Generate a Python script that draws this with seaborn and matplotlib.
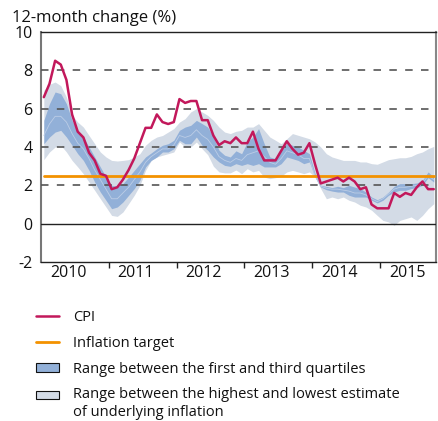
import numpy as np
import pandas as pd
import matplotlib
matplotlib.use("Agg")
import matplotlib.pyplot as plt
from matplotlib.lines import Line2D
from matplotlib.patches import Patch, Rectangle
from matplotlib.legend_handler import HandlerPatch
import seaborn as sns

# ---------------- data (monthly, Jan 2010 - Oct 2015) ----------------
years = ["2010", "2011", "2012", "2013", "2014", "2015"]

cpi = [6.6, 7.3, 8.5, 8.3, 7.5, 5.7, 4.8, 4.5, 3.7, 3.3, 2.6, 2.5,
       1.8, 1.9, 2.3, 2.8, 3.4, 4.2, 5.0, 5.0, 5.7, 5.3, 5.2, 5.3,
       6.5, 6.3, 6.4, 6.4, 5.4, 5.4, 4.6, 4.1, 4.3, 4.2, 4.5, 4.2,
       4.2, 4.8, 3.9, 3.3, 3.3, 3.3, 3.8, 4.3, 3.9, 3.6, 3.7, 4.2,
       3.1, 2.1, 2.2, 2.3, 2.4, 2.2, 2.4, 2.2, 1.8, 1.9, 1.0, 0.8,
       0.8, 0.8, 1.6, 1.4, 1.6, 1.5, 1.9, 2.2, 1.8, 1.8]

target = 2.5

range_hi = [6.96, 7.27, 7.39, 7.2, 6.6, 5.65, 5.3, 5.04, 4.6, 4.17, 3.74, 3.48,
            3.3, 3.27, 3.3, 3.34, 3.48, 3.65, 4.09, 4.35, 4.52, 4.6, 4.78, 4.96,
            5.3, 5.48, 5.83, 6.0, 5.83, 5.65, 5.39, 5.04, 4.78, 4.7, 4.82, 4.87,
            5.04, 5.04, 5.22, 4.87, 4.52, 4.35, 4.17, 4.43, 4.7, 4.61, 4.52, 4.43,
            4.26, 4.0, 3.65, 3.48, 3.39, 3.3, 3.3, 3.3, 3.22, 3.22, 3.13, 3.1,
            3.22, 3.34, 3.39, 3.44, 3.44, 3.51, 3.65, 3.74, 3.91, 4.03]

range_lo = [3.34, 3.74, 4.0, 4.09, 3.74, 3.3, 2.96, 2.6, 2.17, 1.74, 1.3, 0.87,
            0.43, 0.38, 0.61, 1.04, 1.48, 2.0, 2.78, 3.3, 3.48, 3.57, 3.65, 3.74,
            4.26, 4.0, 4.0, 4.26, 3.91, 3.6, 3.0, 2.7, 2.65, 2.65, 2.8, 2.61,
            2.87, 2.7, 2.78, 2.43, 2.35, 2.4, 2.47, 2.7, 2.78, 2.7, 2.61, 2.7,
            2.43, 1.83, 1.3, 1.39, 1.3, 1.39, 1.22, 1.13, 0.96, 0.87, 0.7, 0.43,
            0.17, 0.09, -0.09, 0.17, 0.26, 0.35, 0.17, 0.43, 0.78, 1.04]

q3 = [5.39, 6.26, 6.87, 6.78, 6.26, 5.39, 4.78, 4.52, 4.0, 3.48, 2.96, 2.43,
      2.0, 1.95, 2.09, 2.43, 2.78, 3.13, 3.48, 3.69, 3.91, 4.09, 4.17, 4.35,
      4.87, 5.04, 5.13, 5.39, 5.22, 5.04, 4.52, 3.83, 3.57, 3.48, 3.8, 3.65,
      4.26, 4.52, 4.96, 4.17, 3.48, 3.39, 3.83, 4.2, 4.09, 4.0, 3.83, 3.65,
      2.61, 2.0, 1.95, 1.88, 1.95, 1.88, 2.0, 1.91, 1.83, 1.65, 1.39, 1.25,
      1.39, 1.65, 1.95, 2.09, 2.09, 2.09, 2.12, 2.26, 2.7, 2.43]

q1 = [4.17, 4.52, 4.78, 4.87, 4.52, 4.09, 3.65, 3.3, 2.78, 2.17, 1.65, 1.22,
      0.78, 0.87, 1.13, 1.48, 1.83, 2.26, 2.96, 3.3, 3.48, 3.74, 3.74, 3.91,
      4.35, 4.17, 4.17, 4.52, 4.09, 3.83, 3.48, 3.22, 3.04, 2.99, 3.13, 3.04,
      3.13, 3.04, 3.13, 2.96, 2.96, 2.96, 3.13, 3.48, 3.39, 3.3, 3.13, 3.22,
      2.43, 1.91, 1.77, 1.7, 1.65, 1.65, 1.48, 1.39, 1.39, 1.39, 1.22, 1.08,
      1.22, 1.48, 1.65, 1.74, 1.74, 1.83, 1.88, 2.0, 2.4, 2.17]

median = [4.6, 5.2, 5.6, 5.6, 5.3, 4.7, 4.2, 3.9, 3.4, 2.8, 2.3, 1.8,
          1.3, 1.3, 1.6, 1.9, 2.3, 2.7, 3.2, 3.5, 3.7, 3.9, 3.9, 4.1,
          4.6, 4.5, 4.6, 4.9, 4.6, 4.4, 4.0, 3.5, 3.3, 3.2, 3.4, 3.3,
          3.6, 3.7, 3.8, 3.5, 3.2, 3.1, 3.4, 3.8, 3.7, 3.6, 3.4, 3.4,
          2.5, 1.95, 1.85, 1.8, 1.8, 1.75, 1.7, 1.6, 1.6, 1.5, 1.3, 1.15,
          1.3, 1.55, 1.8, 1.9, 1.9, 1.95, 2.0, 2.1, 2.5, 2.3]

labels = ["CPI", "Inflation target",
          "Range between the first and third quartiles",
          "Range between the highest and lowest estimate\nof underlying inflation"]

# ---------------- style ----------------
sns.set_theme(style="white")
plt.rcParams["font.family"] = ["Open Sans", "DejaVu Sans"]

C_CPI = "#c2185b"
C_TGT = "#f39200"
C_Q = "#92b0d8"
C_R = "#d3dbe6"
C_MED = "#bccde6"

n = len(cpi)
month = np.arange(n) + 0.5
df = pd.DataFrame({"month": month, "cpi": cpi, "target": [target] * n})

fig = plt.figure(figsize=(4.39, 4.21), dpi=100)
ax = fig.add_axes([41 / 439, 1 - 262 / 421, 395 / 439, 230 / 421])

ax.fill_between(month, range_lo, range_hi, color=C_R, lw=0, zorder=1)
ax.fill_between(month, q1, q3, color=C_Q, lw=0, zorder=2)
ax.plot(month, median, color=C_MED, lw=0.6, zorder=2.5)

for v in [2, 4, 6, 8]:
    ax.axhline(v, color="#555555", lw=1.2, ls=(0, (4.5, 5)), zorder=3)
ax.axhline(0, color="#222222", lw=1.0, zorder=3)

sns.lineplot(data=df, x="month", y="target", color=C_TGT, lw=2.0, ax=ax, zorder=4)
sns.lineplot(data=df, x="month", y="cpi", color=C_CPI, lw=1.8, ax=ax, zorder=5)

ax.set_xlim(0, 69.9)
ax.set_ylim(-2, 10)
ax.set_xlabel("")
ax.set_ylabel("")
ax.set_yticks([-2, 0, 2, 4, 6, 8, 10])
ax.set_yticklabels(["-2", "0", "2", "4", "6", "8", "10"])
ax.tick_params(axis="y", length=0, pad=6, labelsize=11.5, colors="#111111")

ax.set_xticks([12, 24, 36, 48, 60])
ax.set_xticklabels([])
ax.set_xticks([12 * k + 4.8 for k in range(len(years))], minor=True)
ax.set_xticklabels(years, minor=True)
ax.tick_params(axis="x", which="major", direction="out", length=4, width=1, color="#222222", bottom=True)
ax.tick_params(axis="x", which="minor", length=0, pad=2, labelsize=11.5, labelcolor="#111111", bottom=True)

for side, col, lw in [("left", "#777777", 1.5), ("right", "#888888", 1.5),
                      ("top", "#222222", 1.0), ("bottom", "#222222", 1.0)]:
    ax.spines[side].set_visible(True)
    ax.spines[side].set_color(col)
    ax.spines[side].set_linewidth(lw)

fig.text(12 / 439, 1 - 22 / 421, "12-month change (%)", fontsize=12,
         color="#111111", va="baseline", ha="left")

FS = 10.5


def top_patch(legend, orig_handle, xdescent, ydescent, width, height, fontsize):
    return Rectangle((-xdescent, -ydescent + 0.62 * fontsize), width, height)


handles = [Line2D([], [], color=C_CPI, lw=1.8),
           Line2D([], [], color=C_TGT, lw=2.0),
           Patch(facecolor=C_Q, edgecolor="#111111", lw=0.8),
           Patch(facecolor=C_R, edgecolor="#111111", lw=0.8)]
fig.legend(handles, labels, loc="upper left", bbox_to_anchor=(36 / 439, 1 - 310 / 421),
           frameon=False, fontsize=FS, borderaxespad=0, borderpad=0,
           handlelength=1.6, handleheight=0.5, handletextpad=0.95,
           labelspacing=0.74, labelcolor="#111111",
           handler_map={handles[3]: HandlerPatch(patch_func=top_patch)})

fig.savefig("out.png", dpi=100)
